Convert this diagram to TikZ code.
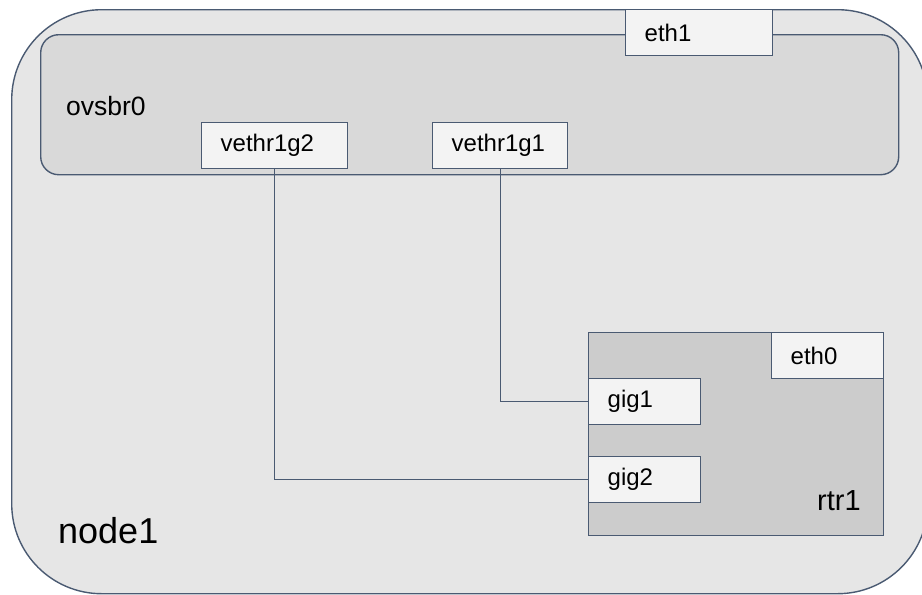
\documentclass[tikz,border=0pt]{standalone}
\usepackage{fontspec}
\setmainfont{Liberation Sans}
\definecolor{edge}{HTML}{4A5A72}
\definecolor{hostfill}{HTML}{E6E6E6}
\definecolor{bridgefill}{HTML}{D9D9D9}
\definecolor{routerfill}{HTML}{CCCCCC}
\definecolor{portfill}{HTML}{F3F3F3}
\begin{document}
\begin{tikzpicture}[x=1pt,y=-1pt,
  frame/.style={draw=edge, line width=1.4pt, anchor=north west, inner sep=0pt},
  port/.style={draw=edge, fill=portfill, line width=1.4pt, anchor=north west,
    inner xsep=19pt, inner ysep=0pt, minimum height=46pt, align=left,
    font=\fontsize{24}{28}\selectfont},
  wire/.style={draw=edge, line width=1.3pt},
  lbl/.style={anchor=base west, inner sep=0pt}]
\useasboundingbox (0,0) rectangle (922,595);
% host
\node[frame, fill=hostfill, rounded corners=90pt, minimum width=916pt, minimum height=584pt] (node1) at (11,9) {};
\node[lbl, font=\fontsize{36}{42}\selectfont] (node1lbl) at (58,543) {node1};
% bridge
\node[frame, fill=bridgefill, rounded corners=18pt, minimum width=858pt, minimum height=140pt] (ovsbr0) at (40,34) {};
\node[lbl, font=\fontsize{26.5}{31}\selectfont] (ovsbr0lbl) at (66,115) {ovsbr0};
\node[port, text width=109pt] (eth1) at (625,9) {eth1};
\node[port, text width=108pt] (vethr1g2) at (201,122) {vethr1g2};
\node[port, text width=97pt] (vethr1g1) at (432,122) {vethr1g1};
% router
\node[frame, fill=routerfill, minimum width=295pt, minimum height=203pt] (rtr1) at (588,332) {};
\node[lbl, font=\fontsize{29}{34}\selectfont] (rtr1lbl) at (817,510) {rtr1};
\node[port, text width=74pt] (eth0) at (771,332) {eth0};
\node[port, text width=74pt] (gig1) at (588,378) {gig1};
\node[port, text width=74pt] (gig2) at (588,456) {gig2};
% veth links
\draw[wire] (vethr1g1.south) |- (gig1.west);
\draw[wire] (vethr1g2.south) |- (gig2.west);
\end{tikzpicture}
\end{document}
